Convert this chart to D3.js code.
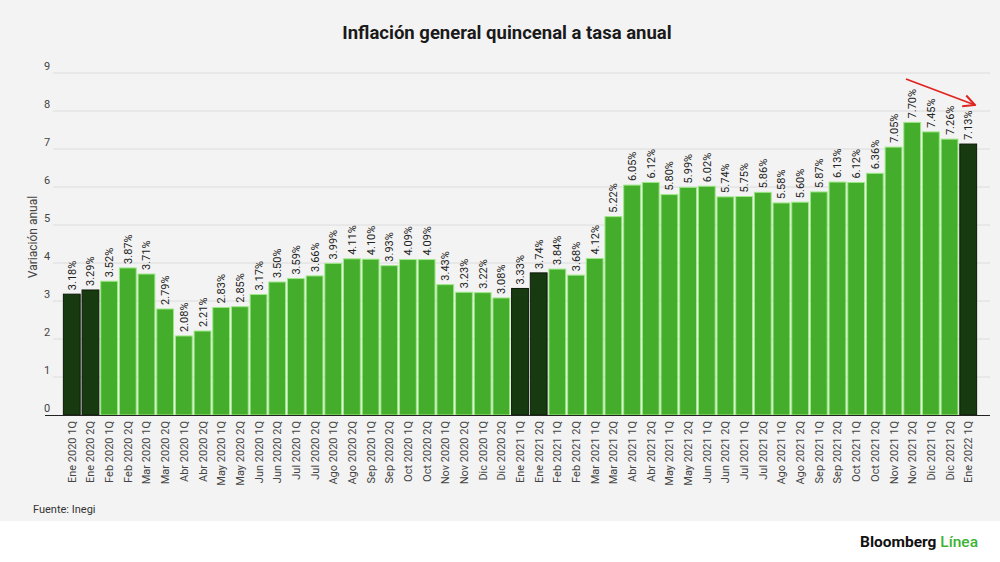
<!DOCTYPE html>
<html lang="es">
<head>
<meta charset="UTF-8">
<title>Inflación general quincenal a tasa anual</title>
<style>
  body, html { margin: 0; width: 100%; height: 100%; background: #fff; }
  svg { display: block; font-family: Roboto, "Noto Sans", sans-serif; }
  .grid line { stroke: #dcdcdc; stroke-width: 1; }
  .ytick { font-size: 11px; fill: #444; }
  .xlab { font-size: 11px; fill: #444; }
  .vlab { font-size: 11px; fill: #222; }
</style>
</head>
<body>
<svg width="1000" height="562"></svg>
<script src="https://d3js.org/d3.v7.min.js"></script>
<script>
// quincenas
const periods = [
  "Ene 2020 1Q","Ene 2020 2Q","Feb 2020 1Q","Feb 2020 2Q","Mar 2020 1Q","Mar 2020 2Q",
  "Abr 2020 1Q","Abr 2020 2Q","May 2020 1Q","May 2020 2Q","Jun 2020 1Q","Jun 2020 2Q",
  "Jul 2020 1Q","Jul 2020 2Q","Ago 2020 1Q","Ago 2020 2Q","Sep 2020 1Q","Sep 2020 2Q",
  "Oct 2020 1Q","Oct 2020 2Q","Nov 2020 1Q","Nov 2020 2Q","Dic 2020 1Q","Dic 2020 2Q",
  "Ene 2021 1Q","Ene 2021 2Q","Feb 2021 1Q","Feb 2021 2Q","Mar 2021 1Q","Mar 2021 2Q",
  "Abr 2021 1Q","Abr 2021 2Q","May 2021 1Q","May 2021 2Q","Jun 2021 1Q","Jun 2021 2Q",
  "Jul 2021 1Q","Jul 2021 2Q","Ago 2021 1Q","Ago 2021 2Q","Sep 2021 1Q","Sep 2021 2Q",
  "Oct 2021 1Q","Oct 2021 2Q","Nov 2021 1Q","Nov 2021 2Q","Dic 2021 1Q","Dic 2021 2Q",
  "Ene 2022 1Q"
];
// variación anual (%)
const inflation = [
  3.18, 3.29, 3.52, 3.87, 3.71, 2.79, 2.08, 2.21, 2.83, 2.85, 3.17, 3.50,
  3.59, 3.66, 3.99, 4.11, 4.10, 3.93, 4.09, 4.09, 3.43, 3.23, 3.22, 3.08,
  3.33, 3.74, 3.84, 3.68, 4.12, 5.22, 6.05, 6.12, 5.80, 5.99, 6.02, 5.74,
  5.75, 5.86, 5.58, 5.60, 5.87, 6.13, 6.12, 6.36, 7.05, 7.70, 7.45, 7.26,
  7.13
];
// barras resaltadas (enero)
const highlighted = ["Ene 2020 1Q","Ene 2020 2Q","Ene 2021 1Q","Ene 2021 2Q","Ene 2022 1Q"];
const yTicks = [0, 1, 2, 3, 4, 5, 6, 7, 8, 9];

const data = periods.map((p, i) => ({ period: p, value: inflation[i] }));

const svg = d3.select("svg");

// fondo gris del gráfico
svg.append("rect").attr("x", 0).attr("y", 0).attr("width", 1000).attr("height", 521).attr("fill", "#f3f3f3");

const x = d3.scaleBand().domain(periods).range([63, 977]).paddingInner(0.1).paddingOuter(0.02);
const y = d3.scaleLinear().domain([0, 9]).range([415, 73]);

svg.append("text")
  .attr("x", 507).attr("y", 39)
  .attr("text-anchor", "middle")
  .style("font-size", "18.5px").style("font-weight", "700").style("fill", "#1a1a1a")
  .text("Inflación general quincenal a tasa anual");

// rejilla
const grid = svg.append("g").attr("class", "grid");
grid.selectAll("line").data(yTicks.slice(1)).enter().append("line")
  .attr("x1", 53).attr("x2", 990)
  .attr("y1", d => y(d)).attr("y2", d => y(d));

svg.append("g").selectAll("text").data(yTicks).enter().append("text")
  .attr("class", "ytick")
  .attr("x", 44).attr("y", d => y(d) - 3)
  .text(d => d);

svg.append("text")
  .attr("transform", "translate(37,237) rotate(-90)")
  .attr("text-anchor", "middle")
  .style("font-size", "12px").style("fill", "#444")
  .text("Variación anual");

// barras
svg.append("g").selectAll("rect").data(data).enter().append("rect")
  .attr("x", d => x(d.period))
  .attr("width", x.bandwidth())
  .attr("y", d => y(d.value))
  .attr("height", d => y(0) - y(d.value))
  .attr("fill", d => highlighted.includes(d.period) ? "#183a10" : "#44ad2c")
  .attr("stroke", d => highlighted.includes(d.period) ? "#0c1a08" : "#9ee887")
  .attr("stroke-width", 1);

// etiquetas de valor
svg.append("g").selectAll("text").data(data).enter().append("text")
  .attr("class", "vlab")
  .attr("transform", d => `translate(${x(d.period) + x.bandwidth() / 2 + 4},${y(d.value) - 4}) rotate(-90)`)
  .text(d => d.value.toFixed(2) + "%");

// eje x
svg.append("line")
  .attr("x1", 45).attr("x2", 990).attr("y1", y(0) + 0.5).attr("y2", y(0) + 0.5)
  .attr("stroke", "#222").attr("stroke-width", 1.2);

svg.append("g").selectAll("text").data(periods).enter().append("text")
  .attr("class", "xlab")
  .attr("text-anchor", "end")
  .attr("transform", d => `translate(${x(d) + x.bandwidth() / 2 + 4},421) rotate(-90)`)
  .text(d => d);

// flecha
svg.append("defs").append("marker")
  .attr("id", "arrow").attr("viewBox", "0 0 10 10")
  .attr("refX", 9).attr("refY", 5)
  .attr("markerWidth", 8).attr("markerHeight", 8)
  .attr("orient", "auto")
  .append("path").attr("d", "M1,1 L9,5 L1,9")
  .attr("fill", "none").attr("stroke", "#e0241f").attr("stroke-width", 1.4);

svg.append("line")
  .attr("x1", 906).attr("y1", 79).attr("x2", 975).attr("y2", 105)
  .attr("stroke", "#e0241f").attr("stroke-width", 1.8)
  .attr("marker-end", "url(#arrow)");

svg.append("text")
  .attr("x", 33).attr("y", 513)
  .style("font-size", "11px").style("fill", "#333")
  .text("Fuente: Inegi");

const logo = svg.append("text")
  .attr("x", 978).attr("y", 547).attr("text-anchor", "end")
  .style("font-size", "15.5px").style("font-weight", "700");
logo.append("tspan").attr("fill", "#111").text("Bloomberg ");
logo.append("tspan").attr("fill", "#3cb332").style("font-weight", "500").text("Línea");
</script>
</body>
</html>
